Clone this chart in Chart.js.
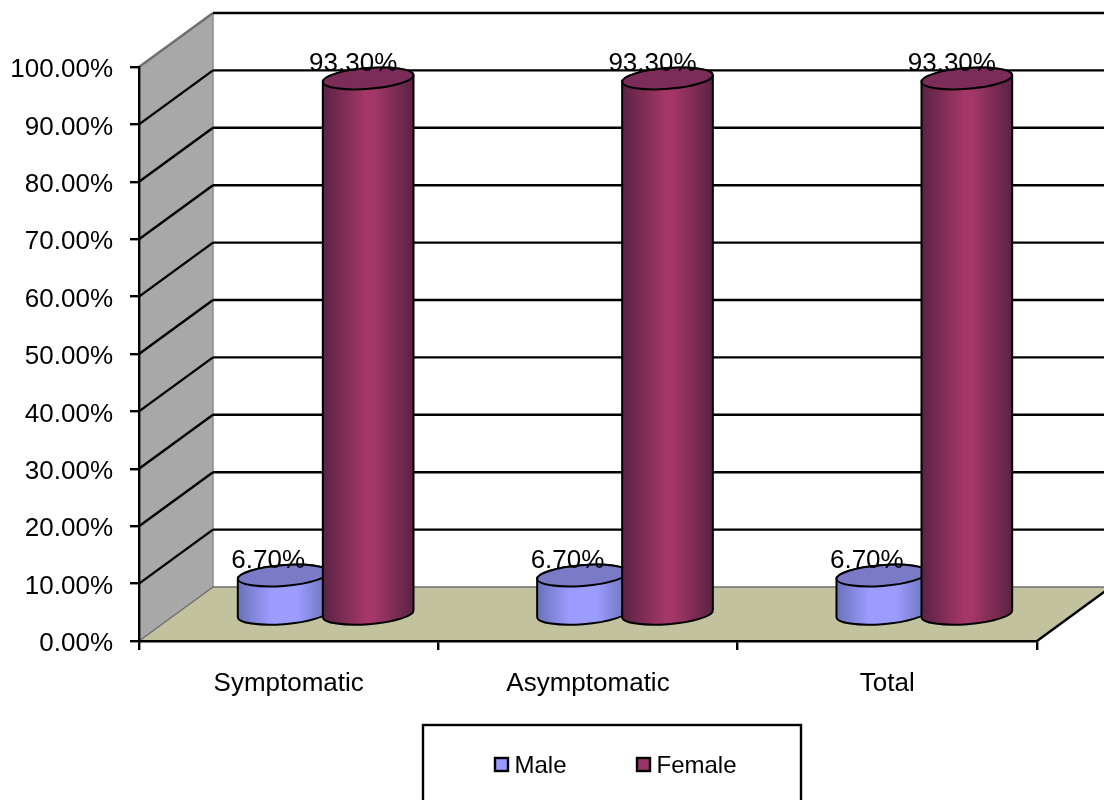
<!DOCTYPE html>
<html>
<head>
<meta charset="utf-8">
<title>Male and female share by group</title>
<script src="https://cdn.jsdelivr.net/npm/chart.js@4"></script>
<style>
  body { margin: 0; background: #fff; }
  canvas { display: block; }
</style>
</head>
<body>
<canvas id="genderChart" width="1104" height="800"></canvas>
<script>
const categories = ["Symptomatic", "Asymptomatic", "Total"];
const maleValues = [6.7, 6.7, 6.7];
const femaleValues = [93.3, 93.3, 93.3];

const FONT = "'Liberation Sans', Arial, sans-serif";
// how far the back wall sits behind the front plane
const DEPTH_X = 74;
const DEPTH_Y = 54;

const shades = [
  { side: "#9c9cff", edge: "#6a72b8", top: "#7a7ac6", stops: [0.36, 0.66] },
  { side: "#a43768", edge: "#5a2343", top: "#7b2c58", stops: [0.48, 0.56] },
];

const pct = (v) => Number(v).toFixed(2) + "%";

// side walls, floor and the gridlines that wrap round them
const roomPlugin = {
  id: "room",
  beforeDraw(chart) {
    const { ctx, chartArea: area, scales } = chart;
    const y = scales.y;
    const left = area.left;
    const right = area.right;
    const bottom = y.getPixelForValue(0);
    const top = y.getPixelForValue(100);

    ctx.save();
    ctx.fillStyle = "#fff";
    ctx.fillRect(0, 0, chart.width, chart.height);

    // left wall
    ctx.fillStyle = "#a8a8a8";
    ctx.beginPath();
    ctx.moveTo(left, bottom);
    ctx.lineTo(left + DEPTH_X, bottom - DEPTH_Y);
    ctx.lineTo(left + DEPTH_X, top - DEPTH_Y);
    ctx.lineTo(left, top);
    ctx.closePath();
    ctx.fill();

    // floor
    ctx.fillStyle = "#c2c29e";
    ctx.beginPath();
    ctx.moveTo(left, bottom);
    ctx.lineTo(left + DEPTH_X, bottom - DEPTH_Y);
    ctx.lineTo(right + DEPTH_X, bottom - DEPTH_Y);
    ctx.lineTo(right, bottom);
    ctx.closePath();
    ctx.fill();

    // wall corner
    ctx.strokeStyle = "#8c8c8c";
    ctx.lineWidth = 1.5;
    ctx.beginPath();
    ctx.moveTo(left + DEPTH_X, bottom - DEPTH_Y);
    ctx.lineTo(left + DEPTH_X, top - DEPTH_Y);
    ctx.stroke();

    y.ticks.forEach((tick) => {
      const py = y.getPixelForValue(tick.value);
      const floorLine = tick.value === 0;
      ctx.strokeStyle = floorLine || tick.value === 100 ? "#6e6e6e" : "#000";
      ctx.lineWidth = floorLine ? 1.5 : 2.4;
      ctx.beginPath();
      ctx.moveTo(left, py);
      ctx.lineTo(left + DEPTH_X, py - DEPTH_Y);
      ctx.stroke();
      ctx.strokeStyle = floorLine ? "#6e6e6e" : "#000";
      ctx.beginPath();
      ctx.moveTo(left + DEPTH_X, py - DEPTH_Y);
      ctx.lineTo(right + DEPTH_X, py - DEPTH_Y);
      ctx.stroke();
    });

    // front right edge of the floor
    ctx.strokeStyle = "#000";
    ctx.lineWidth = 2.4;
    ctx.beginPath();
    ctx.moveTo(right, bottom);
    ctx.lineTo(right + DEPTH_X, bottom - DEPTH_Y);
    ctx.stroke();
    ctx.restore();

    drawLegend(chart);
  },
  beforeDatasetsDraw(chart) {
    const { ctx } = chart;
    chart.data.datasets.forEach((dataset, i) => {
      chart.getDatasetMeta(i).data.forEach((bar) => {
        drawCylinder(ctx, bar, shades[i]);
      });
    });
    chart.data.datasets.forEach((dataset, i) => {
      chart.getDatasetMeta(i).data.forEach((bar, j) => {
        ctx.save();
        ctx.font = "26px " + FONT;
        ctx.fillStyle = "#000";
        ctx.textAlign = "center";
        ctx.textBaseline = "middle";
        ctx.fillText(pct(dataset.data[j]), bar.x + 22, bar.y - 41.5);
        ctx.restore();
      });
    });
    return false;
  },
};

function drawCylinder(ctx, bar, shade) {
  const cx = bar.x + DEPTH_X / 2;
  const topY = bar.y - DEPTH_Y / 2;
  const baseY = bar.base - DEPTH_Y / 2 + 1;
  const rx = bar.width / 2;
  const ry = 10.4;
  const tilt = -0.077;

  const grad = ctx.createLinearGradient(cx - rx, 0, cx + rx, 0);
  grad.addColorStop(0, shade.edge);
  grad.addColorStop(shade.stops[0], shade.side);
  grad.addColorStop(shade.stops[1], shade.side);
  grad.addColorStop(1, shade.edge);

  ctx.save();
  ctx.strokeStyle = "#000";
  ctx.lineWidth = 2;

  ctx.beginPath();
  ctx.ellipse(cx, baseY, rx, ry, tilt, Math.PI, 0, true);
  ctx.ellipse(cx, topY, rx, ry, tilt, 0, Math.PI, true);
  ctx.closePath();
  ctx.fillStyle = grad;
  ctx.fill();
  ctx.stroke();

  ctx.beginPath();
  ctx.ellipse(cx, topY, rx, ry, tilt, 0, Math.PI * 2);
  ctx.fillStyle = shade.top;
  ctx.fill();
  ctx.stroke();
  ctx.restore();
}

function drawLegend(chart) {
  const { ctx } = chart;
  const swatchX = [495, 637];
  ctx.save();
  ctx.strokeStyle = "#000";
  ctx.lineWidth = 2.4;
  ctx.strokeRect(423, 725, 378, 90);
  ctx.font = "24px " + FONT;
  ctx.textBaseline = "middle";
  chart.data.datasets.forEach((dataset, i) => {
    ctx.fillStyle = dataset.backgroundColor;
    ctx.fillRect(swatchX[i], 758, 13, 13);
    ctx.strokeRect(swatchX[i], 758, 13, 13);
    ctx.fillStyle = "#000";
    ctx.fillText(dataset.label, swatchX[i] + 19.5, 766);
  });
  ctx.restore();
}

new Chart(document.getElementById("genderChart"), {
  type: "bar",
  data: {
    labels: categories,
    datasets: [
      { label: "Male", data: maleValues, backgroundColor: "#9999ff" },
      { label: "Female", data: femaleValues, backgroundColor: "#993366" },
    ],
  },
  options: {
    responsive: false,
    animation: false,
    categoryPercentage: 0.568,
    barPercentage: 1.07,
    layout: { padding: { top: 67, right: 67 } },
    plugins: {
      legend: { display: false },
      tooltip: { enabled: false },
    },
    scales: {
      x: {
        afterFit(scale) { scale.height = 159; },
        grid: { drawOnChartArea: false, color: "#000", lineWidth: 2.4, tickLength: 9 },
        border: { color: "#000", width: 2.4 },
        ticks: { color: "#000", font: { family: FONT, size: 26 }, padding: 18, maxRotation: 0 },
      },
      y: {
        min: 0,
        max: 100,
        afterFit(scale) { scale.width = 139; },
        grid: { drawOnChartArea: false, color: "#000", lineWidth: 2.4, tickLength: 9 },
        border: { color: "#000", width: 2.4 },
        ticks: {
          stepSize: 10,
          color: "#000",
          font: { family: FONT, size: 26 },
          padding: 17,
          labelOffset: 3,
          callback: (v) => pct(v),
        },
      },
    },
  },
  plugins: [roomPlugin],
});
</script>
</body>
</html>
